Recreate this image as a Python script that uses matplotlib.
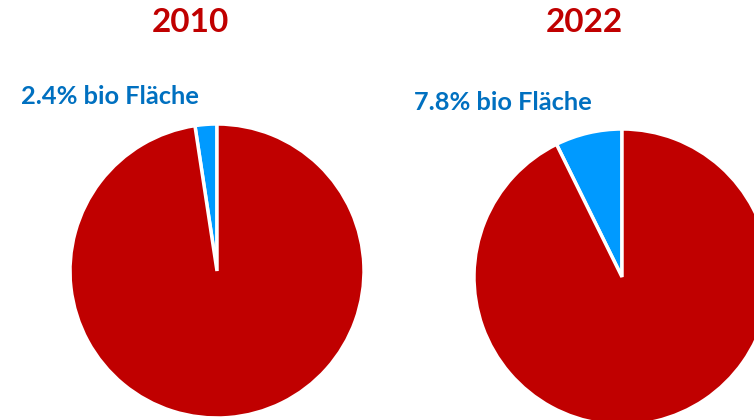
import matplotlib.pyplot as plt

# chart data
years = ['2010', '2022']
bio_share = [2.4, 7.3]          # organic share as drawn in the pies (percent)
labels = ['2.4% bio Fläche', '7.8% bio Fläche']

W, H = 754, 420
red = '#C00000'
blue = '#009AFF'
label_blue = '#0070C0'

plt.rcParams['font.family'] = ['Lato', 'DejaVu Sans']

fig = plt.figure(figsize=(W / 100, H / 100), dpi=100)
ax = fig.add_axes([0, 0, 1, 1])

# pie centres / radii in pixels (y measured from top)
centres = [(217, 271), (622, 277)]
radii = [147, 148]
title_x = [190, 584]
label_pos = [(21, 104), (414, 110)]

for i, year in enumerate(years):
    cx, cy = centres[i]
    ax.pie([bio_share[i], 100 - bio_share[i]], colors=[blue, red],
           startangle=90, counterclock=True,
           center=(cx, H - cy), radius=radii[i],
           wedgeprops=dict(edgecolor='white', linewidth=2.5),
           frame=True)
    ax.text(title_x[i], H - 23, year, color=red, fontsize=24,
            fontweight='bold', ha='center', va='center')
    lx, ly = label_pos[i]
    ax.text(lx, H - ly, labels[i], color=label_blue, fontsize=18.3,
            fontweight='bold', ha='left', va='baseline')

ax.set_xlim(0, W)
ax.set_ylim(0, H)
ax.set_aspect('equal')
ax.axis('off')

fig.savefig('out.png', dpi=100)
